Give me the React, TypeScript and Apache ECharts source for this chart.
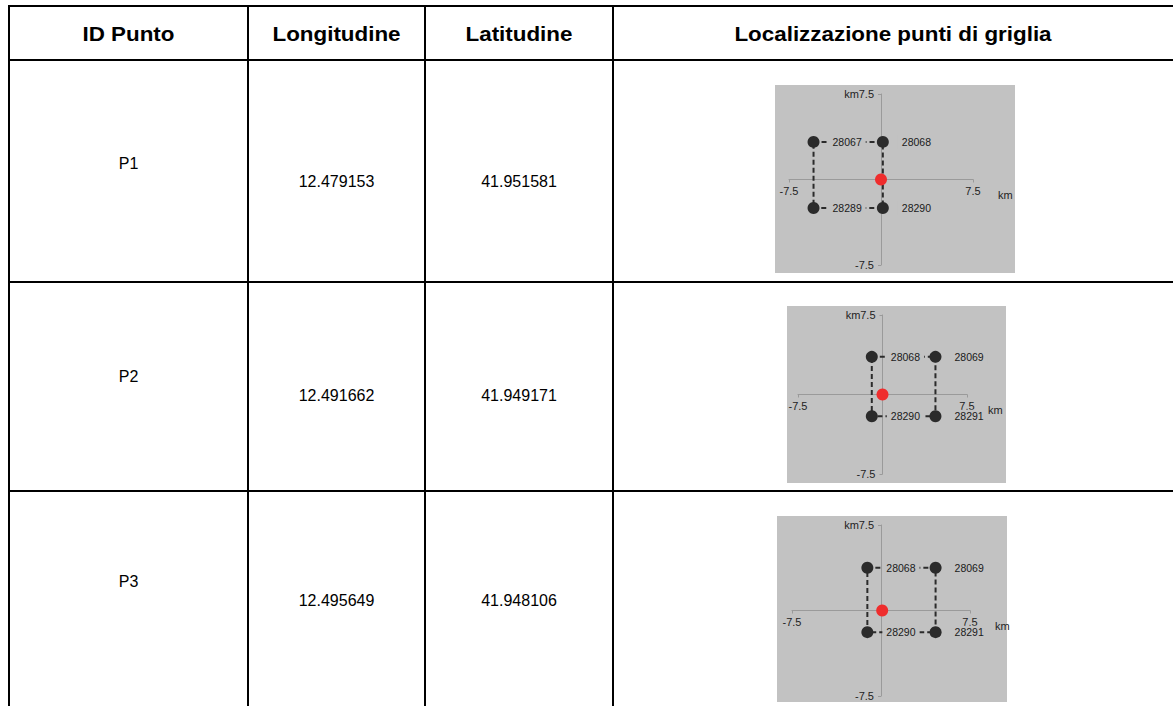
import React, { useEffect, useRef } from "react";
import * as echarts from "echarts";

// ---- data ----
const headers = ["ID Punto", "Longitudine", "Latitudine", "Localizzazione punti di griglia"];
const pointIds = ["P1", "P2", "P3"];
const longitudes = ["12.479153", "12.491662", "12.495649"];
const latitudes = ["41.951581", "41.949171", "41.948106"];

// grid nodes, ordered around the rectangle (top-left, top-right, bottom-right, bottom-left)
const nodeIdsP1 = ["28067", "28068", "28290", "28289"];
const nodeXP1 = [-5.5, 0.15, 0.15, -5.5];
const nodeYP1 = [3.3, 3.3, -2.5, -2.5];

const nodeIdsP2 = ["28068", "28069", "28291", "28290"];
const nodeXP2 = [-0.95, 4.7, 4.7, -0.95];
const nodeYP2 = [3.55, 3.55, -2.05, -2.05];

const nodeIdsP3 = ["28068", "28069", "28291", "28290"];
const nodeXP3 = [-1.15, 4.6, 4.6, -1.15];
const nodeYP3 = [3.75, 3.75, -1.9, -1.9];

const targetX = [0, 0, 0.1];
const targetY = [0, 0, 0];

const axisMin = -7.5;
const axisMax = 7.5;
const axisUnit = "km";

// ---- layout ----
const FONT = "'Liberation Sans', Arial, Helvetica, sans-serif";
const colX = [9, 248, 425, 613, 1173];
const rowY = [6, 60, 282, 491, 706];
const idTextY = [163, 376, 581];
const numTextY = [181, 395, 600];
const panels = [
  { bg: [775, 85, 240, 188], grid: [789, 94, 184, 171], xNameGap: 25 },
  { bg: [787, 306, 219, 177], grid: [798, 315, 169, 159], xNameGap: 21 },
  { bg: [777, 516, 230, 186], grid: [792, 525, 178, 171], xNameGap: 25 },
];

const nodeSets = [
  { ids: nodeIdsP1, xs: nodeXP1, ys: nodeYP1 },
  { ids: nodeIdsP2, xs: nodeXP2, ys: nodeYP2 },
  { ids: nodeIdsP3, xs: nodeXP3, ys: nodeYP3 },
];

export default function App() {
  const ref = useRef<HTMLDivElement>(null);

  useEffect(() => {
    if (!ref.current) return;
    const chart = echarts.init(ref.current, null, { renderer: "svg" });

    const graphic: any[] = [];
    panels.forEach((p) => {
      graphic.push({
        type: "rect",
        z: -10,
        shape: { x: p.bg[0], y: p.bg[1], width: p.bg[2], height: p.bg[3] },
        style: { fill: "#c2c2c2" },
        silent: true,
      });
    });
    const lineStyle = { stroke: "#000", lineWidth: 2 };
    rowY.slice(0, 4).forEach((y) => {
      graphic.push({ type: "line", z: 10, shape: { x1: colX[0] - 1, y1: y, x2: 1173, y2: y }, style: lineStyle });
    });
    colX.slice(0, 4).forEach((x) => {
      graphic.push({ type: "line", z: 10, shape: { x1: x, y1: rowY[0] - 1, x2: x, y2: 706 }, style: lineStyle });
    });
    headers.forEach((h, i) => {
      graphic.push({
        type: "text",
        z: 10,
        x: (colX[i] + colX[i + 1]) / 2,
        y: (rowY[0] + rowY[1]) / 2 + 1,
        scaleX: 1.12,
        style: {
          text: h,
          fill: "#000",
          fontSize: 20,
          fontWeight: "bold",
          fontFamily: FONT,
          align: "center",
          verticalAlign: "middle",
        },
      });
    });
    pointIds.forEach((pid, r) => {
      const cells = [pid, longitudes[r], latitudes[r]];
      cells.forEach((t, c) => {
        graphic.push({
          type: "text",
          z: 10,
          x: (colX[c] + colX[c + 1]) / 2,
          y: c === 0 ? idTextY[r] : numTextY[r],
          style: {
            text: t,
            fill: "#000",
            fontSize: 16,
            fontFamily: FONT,
            align: "center",
            verticalAlign: "middle",
          },
        });
      });
    });

    const grids: any[] = [];
    const xAxes: any[] = [];
    const yAxes: any[] = [];
    const series: any[] = [];
    const axisColor = "#9a9a9a";
    const labelFormatter = (v: number) => (v === 0 ? "" : String(v));

    panels.forEach((p, i) => {
      grids.push({ left: p.grid[0], top: p.grid[1], width: p.grid[2], height: p.grid[3] });
      xAxes.push({
        type: "value",
        gridIndex: i,
        position: "bottom",
        offset: -p.grid[3] / 2,
        min: axisMin,
        max: axisMax,
        interval: 7.5,
        name: axisUnit,
        nameLocation: "end",
        nameGap: p.xNameGap,
        nameMoveOverlap: false,
        nameTextStyle: {
          fontSize: 11,
          fontFamily: FONT,
          color: "#222",
          verticalAlign: "top",
          padding: [10, 0, 0, 0],
        },
        axisLine: { onZero: false, lineStyle: { color: axisColor, width: 1 } },
        axisTick: { show: true, length: 3, lineStyle: { color: axisColor } },
        axisLabel: { fontSize: 11, fontFamily: FONT, color: "#222", margin: 6, formatter: labelFormatter },
        splitLine: { show: false },
      });
      yAxes.push({
        type: "value",
        gridIndex: i,
        position: "left",
        offset: -p.grid[2] / 2,
        min: axisMin,
        max: axisMax,
        interval: 7.5,
        name: axisUnit,
        nameLocation: "end",
        nameGap: 0,
        nameMoveOverlap: false,
        nameTextStyle: {
          fontSize: 11,
          fontFamily: FONT,
          color: "#222",
          align: "right",
          verticalAlign: "middle",
          padding: [0, 22, 0, 0],
        },
        axisLine: { onZero: false, lineStyle: { color: axisColor, width: 1 } },
        axisTick: { show: true, length: 3, lineStyle: { color: axisColor } },
        axisLabel: { fontSize: 11, fontFamily: FONT, color: "#222", margin: 7, formatter: labelFormatter },
        splitLine: { show: false },
      });

      const ns = nodeSets[i];
      const ring = ns.xs.map((x, k) => [x, ns.ys[k]]);
      ring.push([ns.xs[0], ns.ys[0]]);
      series.push({
        type: "line",
        xAxisIndex: i,
        yAxisIndex: i,
        data: ring,
        symbol: "none",
        z: 2,
        lineStyle: { color: "#2b2b2b", width: 2, type: [5, 3] },
        silent: true,
      });
      series.push({
        type: "scatter",
        xAxisIndex: i,
        yAxisIndex: i,
        z: 3,
        symbolSize: 12,
        itemStyle: { color: "#2b2b2b", opacity: 1 },
        data: ns.ids.map((id, k) => ({ name: id, value: [ns.xs[k], ns.ys[k]] })),
        label: {
          show: true,
          position: "right",
          distance: 9,
          formatter: "{b}",
          fontSize: 10.5,
          fontFamily: FONT,
          color: "#1a1a1a",
          backgroundColor: "#c2c2c2",
          padding: [1, 4],
        },
      });
      series.push({
        type: "scatter",
        xAxisIndex: i,
        yAxisIndex: i,
        z: 4,
        symbolSize: 12,
        itemStyle: { color: "#ef2d2d", opacity: 1 },
        data: [[targetX[i], targetY[i]]],
      });
    });

    chart.setOption({
      animation: false,
      backgroundColor: "#fff",
      graphic,
      grid: grids,
      xAxis: xAxes,
      yAxis: yAxes,
      series,
    });

    return () => chart.dispose();
  }, []);

  return (
    <div
      ref={ref}
      style={{ position: "absolute", left: 0, top: 0, width: 1173, height: 706 }}
    />
  );
}
